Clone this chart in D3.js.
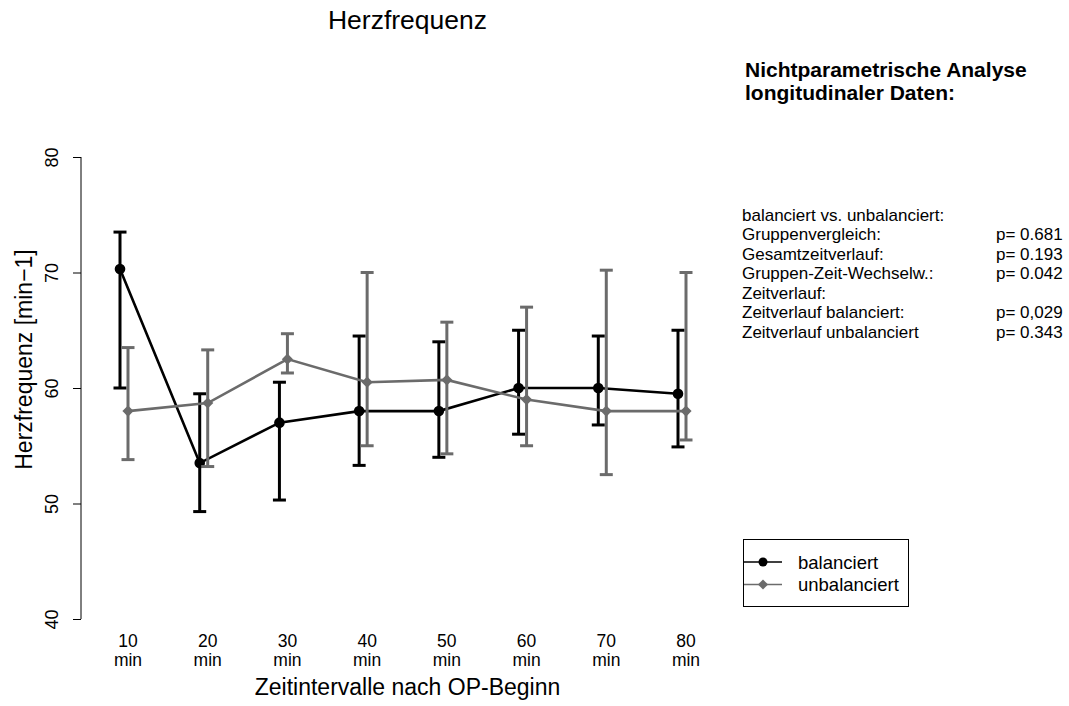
<!DOCTYPE html>
<html>
<head>
<meta charset="utf-8">
<script src="https://cdn.jsdelivr.net/npm/d3@7"></script>
<style>
  html, body { margin: 0; padding: 0; background: #fff; }
  svg { display: block; font-family: "Liberation Sans", Arial, sans-serif; }
</style>
</head>
<body>
<svg id="chart" width="1069" height="706"></svg>
<script>
// Zeitpunkte (Minuten nach OP-Beginn)
const timepoints = ["10", "20", "30", "40", "50", "60", "70", "80"];

// Gruppe "balanciert": Mittelwert, untere und obere Fehlergrenze
const balMean  = [70.3, 53.5, 57.0, 58.0, 58.0, 60.0, 60.0, 59.5];
const balLow   = [60.0, 49.3, 50.3, 53.3, 54.0, 56.0, 56.8, 54.9];
const balHigh  = [73.5, 59.5, 60.5, 64.5, 64.0, 65.0, 64.5, 65.0];

// Gruppe "unbalanciert"
const unbMean  = [58.0, 58.7, 62.5, 60.5, 60.7, 59.0, 58.0, 58.0];
const unbLow   = [53.8, 53.2, 61.3, 55.0, 54.3, 55.0, 52.5, 55.5];
const unbHigh  = [63.5, 63.3, 64.7, 70.0, 65.7, 67.0, 70.2, 70.0];

const yTicks = [40, 50, 60, 70, 80];

const statLabels = ["balanciert vs. unbalanciert:", "Gruppenvergleich:", "Gesamtzeitverlauf:",
  "Gruppen-Zeit-Wechselw.:", "Zeitverlauf:", "Zeitverlauf balanciert:", "Zeitverlauf unbalanciert"];
const statValues = ["", "p= 0.681", "p= 0.193", "p= 0.042", "", "p= 0,029", "p= 0.343"];

const seriesNames = ["balanciert", "unbalanciert"];
const colBlack = "#000000";
const colGray = "#6b6b6b";

const svg = d3.select("#chart");

const x = d3.scalePoint().domain(timepoints).range([128, 686]);
const y = d3.scaleLinear().domain([40, 80]).range([619, 157]);

// Titel
svg.append("text").attr("x", 407.5).attr("y", 28.5).attr("text-anchor", "middle")
  .attr("font-size", 26.5).text("Herzfrequenz");

// y-Achse
const yAxis = d3.axisLeft(y).tickValues(yTicks).tickSize(8).tickFormat(d3.format("d"));
const gy = svg.append("g").attr("transform", "translate(81,0)").call(yAxis);
gy.select(".domain").attr("d", `M0,${y(40)}V${y(80)}`).attr("stroke", "#000");
gy.selectAll(".tick line").attr("stroke", "#000");
gy.selectAll(".tick text")
  .attr("font-size", 18).attr("font-family", "Liberation Sans, Arial, sans-serif")
  .attr("fill", "#000")
  .attr("transform", "translate(-23,0) rotate(-90)")
  .attr("x", 0).attr("dy", "0").attr("text-anchor", "middle");

svg.append("text")
  .attr("transform", "translate(32,359.5) rotate(-90)")
  .attr("text-anchor", "middle").attr("font-size", 23)
  .text("Herzfrequenz [min\u22121]");

// x-Beschriftungen
const xl = svg.append("g");
timepoints.forEach(t => {
  const tx = xl.append("text").attr("x", x(t)).attr("y", 647)
    .attr("text-anchor", "middle").attr("font-size", 17.5);
  tx.append("tspan").attr("x", x(t)).text(t);
  tx.append("tspan").attr("x", x(t)).attr("dy", 18.5).text("min");
});
svg.append("text").attr("x", 407.5).attr("y", 695).attr("text-anchor", "middle")
  .attr("font-size", 23).text("Zeitintervalle nach OP-Beginn");

// Datenreihen
const series = [
  { name: seriesNames[0], mean: balMean, low: balLow, high: balHigh, color: colBlack, dx: -8, shape: "circle" },
  { name: seriesNames[1], mean: unbMean, low: unbLow, high: unbHigh, color: colGray, dx: 0, shape: "diamond" }
];

const diamond = d3.symbol().type(d3.symbolDiamond2).size(80);

series.forEach(s => {
  const g = svg.append("g");
  const px = t => x(t) + s.dx;
  // Fehlerbalken
  timepoints.forEach((t, i) => {
    g.append("line").attr("x1", px(t)).attr("x2", px(t))
      .attr("y1", y(s.low[i])).attr("y2", y(s.high[i]))
      .attr("stroke", s.color).attr("stroke-width", 3);
    [s.low[i], s.high[i]].forEach(v => {
      g.append("line").attr("x1", px(t) - 6.5).attr("x2", px(t) + 6.5)
        .attr("y1", y(v)).attr("y2", y(v))
        .attr("stroke", s.color).attr("stroke-width", 3);
    });
  });
  // Verbindungslinie
  const line = d3.line().x((d, i) => px(timepoints[i])).y(d => y(d));
  g.append("path").datum(s.mean).attr("d", line)
    .attr("fill", "none").attr("stroke", s.color).attr("stroke-width", 2.6);
  // Punkte
  s.mean.forEach((v, i) => {
    if (s.shape === "circle") {
      g.append("circle").attr("cx", px(timepoints[i])).attr("cy", y(v)).attr("r", 5.3)
        .attr("fill", s.color);
    } else {
      g.append("path").attr("d", diamond)
        .attr("transform", `translate(${px(timepoints[i])},${y(v)})`)
        .attr("fill", s.color);
    }
  });
});

// Textblock rechts
const info = svg.append("g").attr("font-weight", "bold").attr("font-size", 21);
info.append("text").attr("x", 745).attr("y", 77).text("Nichtparametrische Analyse");
info.append("text").attr("x", 745).attr("y", 100).text("longitudinaler Daten:");

const stats = svg.append("g").attr("font-size", 17);
statLabels.forEach((l, i) => {
  const yy = 220.5 + i * 19.5;
  stats.append("text").attr("x", 742).attr("y", yy).text(l);
  if (statValues[i]) stats.append("text").attr("x", 996).attr("y", yy).text(statValues[i]);
});

// Legende
const leg = svg.append("g");
leg.append("rect").attr("x", 743.5).attr("y", 539.5).attr("width", 165).attr("height", 67)
  .attr("fill", "none").attr("stroke", "#000").attr("stroke-width", 1);
series.forEach((s, i) => {
  const ly = 562 + i * 22.5;
  leg.append("line").attr("x1", 744).attr("x2", 782).attr("y1", ly).attr("y2", ly)
    .attr("stroke", s.color).attr("stroke-width", 1.5);
  if (s.shape === "circle") {
    leg.append("circle").attr("cx", 763).attr("cy", ly).attr("r", 4.5).attr("fill", s.color);
  } else {
    leg.append("path").attr("d", d3.symbol().type(d3.symbolDiamond2).size(65))
      .attr("transform", `translate(763,${ly})`).attr("fill", s.color);
  }
  leg.append("text").attr("x", 798).attr("y", ly + 6.5).attr("font-size", 18.5).text(s.name);
});
</script>
</body>
</html>
